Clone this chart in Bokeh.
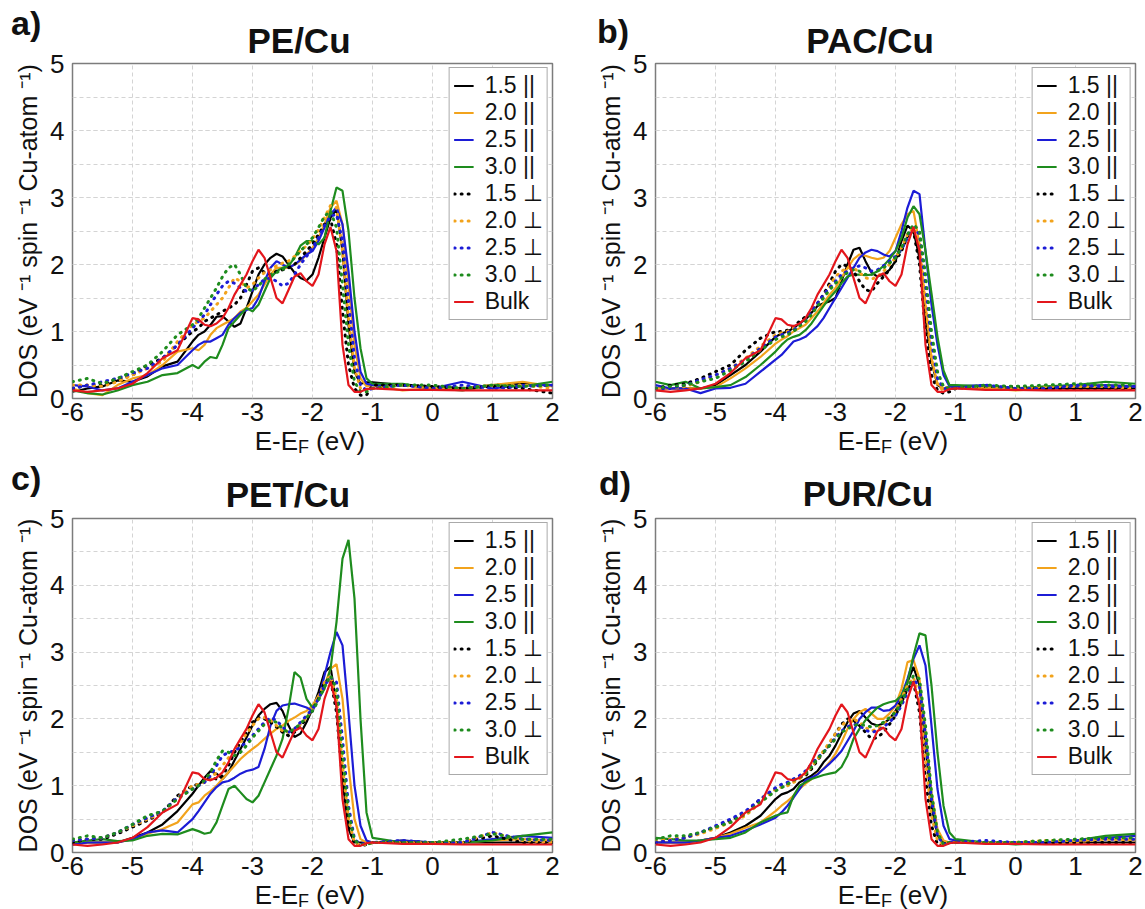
from bokeh.plotting import figure
from bokeh.layouts import column, row
from bokeh.models import Legend, LegendItem, SingleIntervalTicker, Range1d, Div
from bokeh.embed import file_html
from bokeh.resources import INLINE

# ---------------- data (energy grid, eV relative to E_F) ----------------
E = [-6.0, -5.75, -5.5, -5.25, -5.0, -4.75, -4.5, -4.25,
     -4.0, -3.9, -3.8, -3.7, -3.6, -3.5, -3.4, -3.3, -3.2, -3.1,
     -3.0, -2.9, -2.8, -2.7, -2.6, -2.5, -2.4, -2.3, -2.2, -2.1,
     -2.0, -1.9, -1.8, -1.7, -1.6, -1.5, -1.4, -1.3, -1.2, -1.1,
     -1.0, -0.5, 0.0, 0.5, 1.0, 1.5, 2.0]

X_TICKS = [-6, -5, -4, -3, -2, -1, 0, 1, 2]
X_TICK_LABELS = ["-6", "-5", "-4", "-3", "-2", "-1", "0", "1", "2"]

BULK = [0.12, 0.10, 0.12, 0.15, 0.22, 0.38, 0.60, 0.72,
        1.20, 1.18, 1.10, 1.08, 1.12, 1.20, 1.35, 1.55, 1.70, 1.85,
        2.05, 2.22, 2.10, 1.80, 1.50, 1.42, 1.62, 1.82, 1.87, 1.75,
        1.68, 1.85, 2.30, 2.56, 2.20, 0.80, 0.20, 0.10, 0.10, 0.14,
        0.15, 0.13, 0.13, 0.12, 0.12, 0.12, 0.12]

# PE/Cu
PE_15_par = [0.10, 0.15, 0.18, 0.27, 0.25, 0.33, 0.48, 0.55,
             0.85, 0.95, 1.00, 1.10, 1.22, 1.23, 1.15, 1.07, 1.12, 1.35,
             1.60, 1.85, 2.00, 2.10, 2.16, 2.12, 2.00, 1.88, 1.80, 1.76,
             1.85, 2.10, 2.40, 2.70, 2.82, 2.20, 1.10, 0.40, 0.22, 0.24,
             0.24, 0.20, 0.17, 0.15, 0.20, 0.22, 0.20]
PE_20_par = [0.15, 0.08, 0.05, 0.20, 0.30, 0.35, 0.50, 0.70,
             0.75, 0.72, 0.80, 0.95, 1.05, 1.10, 1.15, 1.20, 1.30, 1.35,
             1.45, 1.55, 1.70, 1.85, 1.95, 1.95, 1.95, 2.00, 2.05, 2.15,
             2.25, 2.40, 2.60, 2.85, 2.95, 2.60, 1.70, 0.80, 0.30, 0.18,
             0.20, 0.12, 0.15, 0.15, 0.20, 0.25, 0.18]
PE_25_par = [0.20, 0.18, 0.12, 0.15, 0.25, 0.35, 0.45, 0.50,
             0.72, 0.80, 0.85, 0.85, 0.90, 0.95, 1.10, 1.20, 1.28, 1.32,
             1.35, 1.50, 1.75, 1.95, 2.05, 2.00, 1.95, 2.00, 2.07, 2.15,
             2.20, 2.35, 2.55, 2.75, 2.85, 2.60, 1.90, 1.00, 0.40, 0.22,
             0.20, 0.20, 0.15, 0.25, 0.15, 0.20, 0.20]
PE_30_par = [0.12, 0.08, 0.06, 0.12, 0.20, 0.25, 0.35, 0.38,
             0.50, 0.45, 0.55, 0.62, 0.60, 0.80, 1.05, 1.15, 1.25, 1.35,
             1.30, 1.40, 1.60, 1.80, 1.90, 1.95, 1.98, 2.10, 2.28, 2.35,
             2.35, 2.30, 2.40, 2.80, 3.15, 3.10, 2.50, 1.50, 0.75, 0.30,
             0.22, 0.22, 0.15, 0.12, 0.20, 0.18, 0.25]
PE_15_perp = [0.15, 0.20, 0.20, 0.28, 0.35, 0.50, 0.60, 0.80,
              1.00, 1.05, 1.15, 1.20, 1.25, 1.30, 1.35, 1.40, 1.50, 1.70,
              1.90, 1.95, 1.88, 1.85, 1.90, 1.92, 1.95, 2.00, 2.10, 2.20,
              2.30, 2.45, 2.60, 2.68, 2.30, 1.30, 0.50, 0.15, 0.05, 0.05,
              0.20, 0.20, 0.18, 0.15, 0.18, 0.15, 0.08]
PE_20_perp = [0.20, 0.20, 0.18, 0.25, 0.35, 0.45, 0.55, 0.85,
              1.10, 1.15, 1.20, 1.30, 1.40, 1.50, 1.65, 1.80, 1.75, 1.65,
              1.70, 1.80, 1.88, 1.92, 1.98, 2.02, 2.05, 2.12, 2.20, 2.28,
              2.38, 2.52, 2.70, 2.88, 2.85, 2.20, 1.20, 0.45, 0.15, 0.12,
              0.15, 0.20, 0.15, 0.15, 0.20, 0.20, 0.15]
PE_25_perp = [0.15, 0.20, 0.25, 0.30, 0.38, 0.45, 0.60, 0.80,
              1.05, 1.15, 1.25, 1.40, 1.55, 1.68, 1.75, 1.72, 1.65, 1.60,
              1.62, 1.70, 1.78, 1.80, 1.75, 1.68, 1.72, 1.85, 2.00, 2.12,
              2.25, 2.40, 2.58, 2.72, 2.75, 2.35, 1.45, 0.60, 0.20, 0.12,
              0.15, 0.20, 0.15, 0.20, 0.15, 0.18, 0.20]
PE_30_perp = [0.25, 0.30, 0.22, 0.30, 0.40, 0.50, 0.70, 0.95,
              1.10, 1.20, 1.35, 1.50, 1.65, 1.82, 1.95, 2.00, 1.85, 1.65,
              1.60, 1.68, 1.78, 1.85, 1.88, 1.92, 2.00, 2.10, 2.20, 2.30,
              2.40, 2.55, 2.72, 2.80, 2.55, 1.70, 0.80, 0.25, 0.10, 0.10,
              0.15, 0.20, 0.20, 0.15, 0.20, 0.18, 0.20]

# PAC/Cu
PAC_15_par = [0.15, 0.15, 0.15, 0.15, 0.20, 0.35, 0.50, 0.70,
              0.92, 0.97, 1.00, 1.05, 1.12, 1.18, 1.28, 1.38, 1.42, 1.45,
              1.50, 1.75, 2.00, 2.22, 2.25, 2.05, 1.88, 1.82, 1.85, 1.92,
              2.05, 2.35, 2.58, 2.50, 2.10, 1.20, 0.55, 0.20, 0.15, 0.18,
              0.18, 0.18, 0.15, 0.15, 0.15, 0.15, 0.15]
PAC_20_par = [0.15, 0.15, 0.15, 0.15, 0.17, 0.30, 0.45, 0.62,
              0.82, 0.88, 0.93, 1.00, 1.05, 1.10, 1.20, 1.30, 1.42, 1.55,
              1.65, 1.80, 1.95, 2.08, 2.15, 2.13, 2.10, 2.08, 2.10, 2.20,
              2.40, 2.60, 2.75, 2.80, 2.30, 1.40, 0.60, 0.22, 0.15, 0.18,
              0.18, 0.15, 0.12, 0.15, 0.20, 0.20, 0.18]
PAC_25_par = [0.20, 0.15, 0.15, 0.08, 0.15, 0.16, 0.22, 0.40,
              0.58, 0.65, 0.75, 0.85, 0.88, 0.92, 1.00, 1.08, 1.20, 1.35,
              1.50, 1.65, 1.80, 1.95, 2.10, 2.18, 2.22, 2.20, 2.15, 2.12,
              2.20, 2.50, 2.85, 3.10, 3.05, 2.20, 1.40, 0.80, 0.35, 0.18,
              0.18, 0.20, 0.15, 0.15, 0.18, 0.20, 0.18]
PAC_30_par = [0.25, 0.20, 0.25, 0.15, 0.17, 0.20, 0.32, 0.50,
              0.70, 0.80, 0.88, 0.92, 0.95, 1.02, 1.12, 1.25, 1.38, 1.50,
              1.60, 1.72, 1.82, 1.85, 1.85, 1.84, 1.85, 1.90, 1.98, 2.08,
              2.20, 2.40, 2.70, 2.87, 2.75, 2.20, 1.57, 0.92, 0.42, 0.20,
              0.20, 0.18, 0.15, 0.18, 0.20, 0.25, 0.22]
PAC_15_perp = [0.15, 0.20, 0.22, 0.30, 0.40, 0.50, 0.72, 0.90,
               1.00, 1.00, 1.02, 1.08, 1.15, 1.22, 1.30, 1.42, 1.55, 1.72,
               1.90, 2.00, 1.98, 1.90, 1.75, 1.62, 1.60, 1.72, 1.82, 1.92,
               2.05, 2.20, 2.42, 2.50, 2.00, 1.00, 0.35, 0.12, 0.08, 0.10,
               0.15, 0.18, 0.18, 0.15, 0.15, 0.15, 0.15]
PAC_20_perp = [0.15, 0.15, 0.18, 0.25, 0.35, 0.45, 0.60, 0.78,
               0.95, 0.98, 1.00, 1.05, 1.10, 1.18, 1.28, 1.40, 1.52, 1.68,
               1.82, 1.90, 1.95, 1.95, 1.88, 1.80, 1.78, 1.82, 1.90, 2.00,
               2.10, 2.25, 2.45, 2.55, 2.30, 1.40, 0.60, 0.20, 0.12, 0.15,
               0.15, 0.18, 0.15, 0.18, 0.18, 0.18, 0.15]
PAC_25_perp = [0.15, 0.15, 0.20, 0.28, 0.35, 0.45, 0.58, 0.75,
               0.92, 0.95, 0.98, 1.02, 1.10, 1.18, 1.30, 1.42, 1.55, 1.65,
               1.75, 1.85, 1.90, 1.95, 1.98, 1.95, 1.90, 1.92, 1.98, 2.05,
               2.12, 2.22, 2.40, 2.55, 2.45, 1.70, 0.85, 0.30, 0.15, 0.15,
               0.15, 0.20, 0.15, 0.15, 0.20, 0.18, 0.18]
PAC_30_perp = [0.15, 0.18, 0.20, 0.25, 0.30, 0.42, 0.55, 0.72,
               0.88, 0.92, 0.95, 1.00, 1.08, 1.15, 1.25, 1.38, 1.50, 1.62,
               1.72, 1.80, 1.88, 1.92, 1.90, 1.85, 1.85, 1.90, 1.95, 2.02,
               2.10, 2.25, 2.45, 2.60, 2.50, 1.85, 1.00, 0.40, 0.18, 0.15,
               0.15, 0.20, 0.18, 0.20, 0.22, 0.20, 0.20]

# PET/Cu
PET_15_par = [0.12, 0.15, 0.15, 0.15, 0.22, 0.30, 0.42, 0.62,
              0.88, 1.00, 1.12, 1.22, 1.18, 1.10, 1.20, 1.38, 1.55, 1.72,
              1.90, 2.05, 2.15, 2.22, 2.24, 2.12, 1.90, 1.73, 1.78, 1.95,
              2.15, 2.40, 2.70, 2.78, 2.20, 1.10, 0.35, 0.15, 0.15, 0.15,
              0.15, 0.18, 0.15, 0.15, 0.15, 0.15, 0.15]
PET_20_par = [0.15, 0.15, 0.15, 0.15, 0.20, 0.28, 0.35, 0.45,
              0.72, 0.75, 0.85, 0.92, 1.00, 1.10, 1.20, 1.30, 1.40, 1.48,
              1.55, 1.62, 1.70, 1.78, 1.85, 1.90, 1.97, 2.02, 2.08, 2.12,
              2.20, 2.35, 2.50, 2.75, 2.82, 2.30, 1.30, 0.50, 0.20, 0.15,
              0.15, 0.15, 0.15, 0.15, 0.18, 0.20, 0.18]
PET_25_par = [0.12, 0.15, 0.15, 0.15, 0.20, 0.30, 0.33, 0.30,
              0.50, 0.62, 0.75, 0.88, 0.98, 1.05, 1.07, 1.12, 1.18, 1.22,
              1.24, 1.28, 1.55, 1.90, 2.12, 2.20, 2.22, 2.23, 2.20, 2.17,
              2.12, 2.30, 2.65, 3.00, 3.30, 3.10, 2.10, 1.00, 0.40, 0.18,
              0.15, 0.18, 0.15, 0.15, 0.20, 0.25, 0.22]
PET_30_par = [0.15, 0.18, 0.20, 0.17, 0.18, 0.25, 0.28, 0.27,
              0.35, 0.32, 0.28, 0.30, 0.45, 0.70, 0.95, 1.00, 0.90, 0.80,
              0.75, 0.85, 1.05, 1.25, 1.45, 1.70, 2.15, 2.70, 2.62, 2.30,
              2.17, 2.30, 2.45, 2.75, 3.45, 4.40, 4.68, 3.80, 2.00, 0.60,
              0.22, 0.15, 0.15, 0.15, 0.18, 0.25, 0.30]
PET_15_perp = [0.15, 0.20, 0.20, 0.28, 0.38, 0.48, 0.60, 0.85,
               1.00, 1.02, 1.08, 1.12, 1.10, 1.15, 1.30, 1.50, 1.65, 1.80,
               1.95, 2.02, 2.00, 1.95, 1.88, 1.80, 1.75, 1.80, 1.90, 2.00,
               2.12, 2.30, 2.55, 2.60, 2.10, 1.10, 0.40, 0.12, 0.10, 0.12,
               0.15, 0.15, 0.15, 0.15, 0.25, 0.15, 0.15]
PET_20_perp = [0.18, 0.20, 0.22, 0.30, 0.40, 0.50, 0.60, 0.82,
               1.00, 1.02, 1.05, 1.10, 1.20, 1.30, 1.42, 1.55, 1.65, 1.78,
               1.90, 2.00, 2.02, 1.98, 1.90, 1.82, 1.80, 1.85, 1.92, 2.02,
               2.15, 2.32, 2.55, 2.65, 2.30, 1.30, 0.50, 0.15, 0.12, 0.12,
               0.15, 0.15, 0.15, 0.15, 0.30, 0.18, 0.15]
PET_25_perp = [0.18, 0.20, 0.22, 0.30, 0.42, 0.52, 0.62, 0.82,
               0.95, 1.00, 1.05, 1.15, 1.30, 1.45, 1.50, 1.52, 1.58, 1.65,
               1.75, 1.85, 1.95, 2.02, 1.98, 1.88, 1.80, 1.85, 1.95, 2.05,
               2.15, 2.30, 2.50, 2.62, 2.55, 1.70, 0.70, 0.20, 0.12, 0.15,
               0.15, 0.18, 0.15, 0.15, 0.30, 0.20, 0.18]
PET_30_perp = [0.20, 0.25, 0.22, 0.30, 0.42, 0.55, 0.62, 0.80,
               0.95, 1.00, 1.08, 1.20, 1.38, 1.52, 1.50, 1.45, 1.50, 1.60,
               1.72, 1.82, 1.92, 1.98, 1.95, 1.85, 1.80, 1.85, 1.93, 2.02,
               2.12, 2.28, 2.48, 2.65, 2.45, 1.50, 0.60, 0.18, 0.12, 0.12,
               0.15, 0.15, 0.15, 0.20, 0.28, 0.20, 0.20]

# PUR/Cu
PUR_15_par = [0.15, 0.15, 0.15, 0.18, 0.22, 0.30, 0.40, 0.55,
              0.80, 0.87, 0.90, 0.95, 1.05, 1.10, 1.15, 1.22, 1.35, 1.45,
              1.60, 1.78, 1.95, 2.08, 2.12, 2.02, 1.93, 1.90, 1.93, 2.00,
              2.12, 2.30, 2.55, 2.78, 2.50, 1.60, 0.70, 0.25, 0.15, 0.15,
              0.15, 0.15, 0.15, 0.15, 0.15, 0.15, 0.15]
PUR_20_par = [0.15, 0.15, 0.15, 0.18, 0.22, 0.28, 0.37, 0.45,
              0.62, 0.70, 0.77, 0.85, 0.95, 1.03, 1.10, 1.18, 1.25, 1.35,
              1.48, 1.65, 1.85, 2.00, 2.10, 2.15, 2.08, 2.00, 2.00, 2.08,
              2.20, 2.45, 2.85, 2.88, 2.60, 1.80, 0.90, 0.35, 0.18, 0.15,
              0.15, 0.15, 0.15, 0.15, 0.15, 0.20, 0.18]
PUR_25_par = [0.15, 0.15, 0.15, 0.18, 0.22, 0.25, 0.33, 0.42,
              0.52, 0.60, 0.70, 0.82, 0.95, 1.08, 1.12, 1.17, 1.25, 1.33,
              1.42, 1.52, 1.67, 1.82, 2.00, 2.10, 2.17, 2.17, 2.12, 2.13,
              2.20, 2.35, 2.60, 2.90, 3.10, 2.80, 1.90, 0.95, 0.40, 0.20,
              0.18, 0.15, 0.15, 0.15, 0.18, 0.22, 0.25]
PUR_30_par = [0.22, 0.20, 0.18, 0.18, 0.20, 0.22, 0.30, 0.45,
              0.55, 0.58, 0.60, 0.85, 1.00, 1.05, 1.10, 1.13, 1.16, 1.18,
              1.20, 1.28, 1.45, 1.70, 1.85, 1.98, 2.08, 2.17, 2.22, 2.25,
              2.27, 2.35, 2.55, 2.95, 3.28, 3.25, 2.50, 1.50, 0.70, 0.30,
              0.20, 0.15, 0.12, 0.15, 0.18, 0.25, 0.28]
PUR_15_perp = [0.15, 0.20, 0.22, 0.30, 0.38, 0.48, 0.60, 0.80,
               0.95, 0.98, 1.02, 1.08, 1.12, 1.15, 1.25, 1.38, 1.50, 1.62,
               1.78, 1.92, 2.00, 1.98, 1.90, 1.80, 1.70, 1.72, 1.80, 1.92,
               2.05, 2.25, 2.45, 2.55, 2.10, 1.10, 0.40, 0.12, 0.12, 0.15,
               0.15, 0.15, 0.15, 0.15, 0.15, 0.15, 0.15]
PUR_20_perp = [0.18, 0.20, 0.22, 0.28, 0.36, 0.45, 0.55, 0.75,
               0.95, 0.98, 1.00, 1.05, 1.10, 1.18, 1.28, 1.40, 1.52, 1.65,
               1.78, 1.90, 1.97, 2.00, 1.95, 1.87, 1.82, 1.85, 1.92, 2.00,
               2.12, 2.30, 2.50, 2.62, 2.30, 1.40, 0.55, 0.18, 0.12, 0.15,
               0.15, 0.15, 0.15, 0.18, 0.18, 0.20, 0.20]
PUR_25_perp = [0.15, 0.18, 0.22, 0.30, 0.40, 0.50, 0.62, 0.80,
               0.97, 1.02, 1.05, 1.10, 1.15, 1.22, 1.32, 1.42, 1.50, 1.60,
               1.72, 1.82, 1.88, 1.92, 1.90, 1.83, 1.80, 1.82, 1.88, 1.95,
               2.05, 2.20, 2.40, 2.58, 2.50, 1.75, 0.80, 0.25, 0.12, 0.15,
               0.15, 0.18, 0.15, 0.15, 0.18, 0.20, 0.20]
PUR_30_perp = [0.20, 0.25, 0.25, 0.30, 0.38, 0.45, 0.58, 0.75,
               0.92, 0.97, 1.02, 1.08, 1.12, 1.18, 1.28, 1.40, 1.50, 1.60,
               1.70, 1.80, 1.85, 1.90, 1.92, 1.90, 1.88, 1.90, 1.95, 2.02,
               2.10, 2.25, 2.45, 2.65, 2.60, 1.90, 0.90, 0.30, 0.12, 0.15,
               0.15, 0.15, 0.15, 0.18, 0.20, 0.22, 0.22]

LEGEND_LABELS = ["1.5 ||", "2.0 ||", "2.5 ||", "3.0 ||",
                 "1.5 ⊥", "2.0 ⊥", "2.5 ⊥", "3.0 ⊥", "Bulk"]
PANEL_TITLES = ["PE/Cu", "PAC/Cu", "PET/Cu", "PUR/Cu"]
PANEL_LETTERS = ["a)", "b)", "c)", "d)"]
Y_LABEL = "DOS (eV ⁻¹ spin ⁻¹ Cu-atom ⁻¹)"
PANEL_SERIES = [
    [PE_15_par, PE_20_par, PE_25_par, PE_30_par, PE_15_perp, PE_20_perp, PE_25_perp, PE_30_perp, BULK],
    [PAC_15_par, PAC_20_par, PAC_25_par, PAC_30_par, PAC_15_perp, PAC_20_perp, PAC_25_perp, PAC_30_perp, BULK],
    [PET_15_par, PET_20_par, PET_25_par, PET_30_par, PET_15_perp, PET_20_perp, PET_25_perp, PET_30_perp, BULK],
    [PUR_15_par, PUR_20_par, PUR_25_par, PUR_30_par, PUR_15_perp, PUR_20_perp, PUR_25_perp, PUR_30_perp, BULK],
]

# ---------------- styling ----------------
COLORS = ["#000000", "#f2a31c", "#1c1cd6", "#1e8c1e",
          "#000000", "#f2a31c", "#1c1cd6", "#1e8c1e", "#e3161c"]
DOTTED = [False, False, False, False, True, True, True, True, False]
FONT = "Liberation Sans"
INK = "#111111"
GRID_COLOR = "#d4d4d4"

TOP_H = 54      # band holding panel letter + title
OVERLAP = 6     # plot canvas slides this far up under the (transparent) band area
BOT_H = 24      # band holding x-axis label
CSS_FONT = "font-family:'Liberation Sans',Arial,sans-serif;color:#111111;white-space:nowrap;margin:0;padding:0;"


def make_panel(idx, width, height, left, right):
    p = figure(width=width, height=height,
               x_range=Range1d(-6, 2), y_range=Range1d(0, 5),
               output_backend="svg", toolbar_location=None,
               min_border_left=left, min_border_right=right,
               min_border_top=9 + OVERLAP, min_border_bottom=33,
               margin=(-OVERLAP, 0, 0, 0))
    p.border_fill_alpha = 0.0
    p.outline_line_color = "#7c7c7c"
    p.outline_line_width = 1.5

    p.xaxis.ticker = SingleIntervalTicker(interval=1, num_minor_ticks=0)
    p.xaxis.major_label_overrides = dict(zip(X_TICKS, X_TICK_LABELS))
    p.yaxis.ticker = SingleIntervalTicker(interval=1, num_minor_ticks=2)
    for ax in (p.xaxis, p.yaxis):
        ax.axis_line_color = None
        ax.major_tick_line_color = None
        ax.minor_tick_line_color = None
        ax.major_tick_out = 0
        ax.major_label_text_font = FONT
        ax.major_label_text_font_size = "26px"
        ax.major_label_text_color = INK
        ax.major_label_standoff = 4
    p.yaxis.axis_label = Y_LABEL
    p.yaxis.axis_label_text_font = FONT
    p.yaxis.axis_label_text_font_size = "25px"
    p.yaxis.axis_label_text_font_style = "normal"
    p.yaxis.axis_label_text_color = INK
    p.yaxis.axis_label_standoff = 5

    p.xgrid.grid_line_color = GRID_COLOR
    p.xgrid.grid_line_dash = "4 3"
    p.ygrid.grid_line_color = GRID_COLOR
    p.ygrid.grid_line_dash = "4 3"
    p.ygrid.minor_grid_line_color = GRID_COLOR
    p.ygrid.minor_grid_line_dash = "4 3"

    items = []
    for lab, ys, col, dot in zip(LEGEND_LABELS, PANEL_SERIES[idx], COLORS, DOTTED):
        if dot:
            r = p.line(E, ys, line_color=col, line_width=3.0,
                       line_dash="1 6", line_cap="round")
        else:
            r = p.line(E, ys, line_color=col, line_width=2.2)
        items.append(LegendItem(label=lab, renderers=[r]))

    leg = Legend(items=items, location="top_right")
    leg.label_text_font = FONT
    leg.label_text_font_size = "23px"
    leg.label_text_color = INK
    leg.glyph_width = 20
    leg.glyph_height = 27
    leg.label_height = 27
    leg.label_standoff = 11
    leg.spacing = 0
    leg.padding = 4
    leg.margin = 4
    leg.border_line_color = "#555555"
    leg.border_line_width = 1.5
    leg.background_fill_alpha = 1.0
    p.add_layout(leg, "center")
    return p


def top_band(idx, width):
    # span tops are chosen so that the text baselines fall where the reference has them
    lx, ltop = [(11, 6), (25, 14), (11, 6), (27, 11)][idx]
    tcx, ttop = [(299, 23), (298, 23), (288, 22), (296, 21)][idx]
    html = (
        f'<div style="position:relative;width:{width}px;height:{TOP_H}px;margin:0;padding:0;">'
        f'<span style="position:absolute;left:{lx}px;top:{ltop}px;font-size:34px;line-height:34px;'
        f'font-weight:bold;{CSS_FONT}">{PANEL_LETTERS[idx]}</span>'
        f'<span style="position:absolute;left:{tcx - 150}px;width:300px;text-align:center;top:{ttop}px;'
        f'font-size:35px;line-height:35px;font-weight:bold;{CSS_FONT}">{PANEL_TITLES[idx]}</span>'
        f'</div>')
    return Div(text=html, width=width, height=TOP_H, margin=0)


def bottom_band(width, split_x):
    html = (
        f'<div style="position:relative;width:{width}px;height:{BOT_H}px;margin:0;padding:0;">'
        f'<span style="position:absolute;right:{width - split_x}px;top:0px;font-size:26px;'
        f'line-height:20px;{CSS_FONT}">E-E</span>'
        f'<span style="position:absolute;left:{split_x}px;top:9px;font-size:18px;'
        f'line-height:14px;{CSS_FONT}">F</span>'
        f'<span style="position:absolute;left:{split_x + 18}px;top:0px;font-size:26px;'
        f'line-height:20px;{CSS_FONT}">(eV)</span>'
        f'</div>')
    return Div(text=html, width=width, height=BOT_H, margin=0)


def panel_block(idx, width, frame_h, left, right, split_x):
    plot_h = OVERLAP + 9 + frame_h + 33
    return column(top_band(idx, width),
                  make_panel(idx, width, plot_h, left, right),
                  bottom_band(width, split_x), spacing=0)


blk_a = panel_block(0, 572, 335, 72, 20, 298)
blk_b = panel_block(1, 573, 335, 83, 10, 309)
blk_c = panel_block(2, 572, 334, 72, 20, 298)
blk_d = panel_block(3, 573, 334, 83, 10, 309)

layout = column(row(blk_a, blk_b, spacing=0), row(blk_c, blk_d, spacing=0), spacing=0)
open("out.html", "w").write(file_html(layout, INLINE))
